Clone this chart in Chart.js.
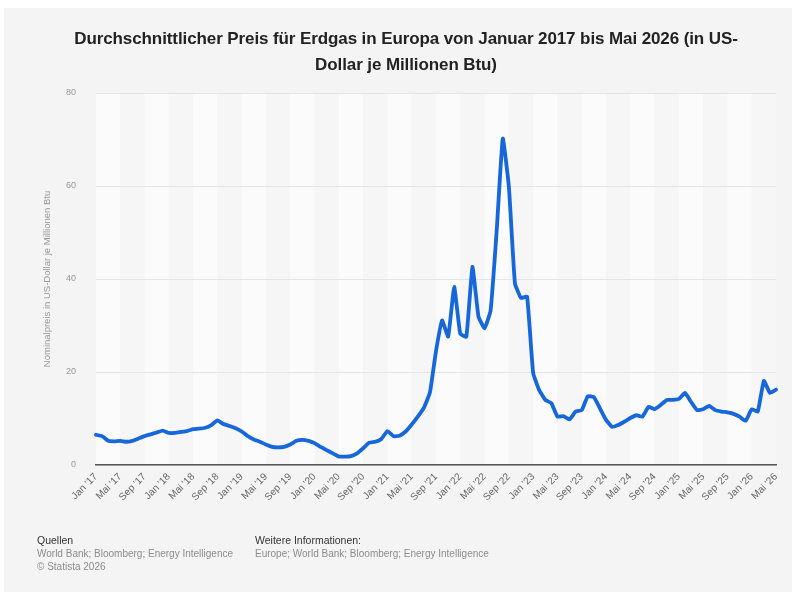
<!DOCTYPE html>
<html lang="de">
<head>
<meta charset="utf-8">
<script src="https://cdn.jsdelivr.net/npm/chart.js@4.4.1/dist/chart.umd.min.js"></script>
<style>
  html, body { margin: 0; padding: 0; background: #fff; }
  body { width: 796px; height: 594px; position: relative; overflow: hidden; font-family: "Liberation Sans", Arial, sans-serif; }
  #card { position: absolute; left: 4px; top: 8px; width: 788px; height: 584px; background: #f4f4f4; }
  #title { position: absolute; left: 0; top: 26px; width: 812px; text-align: center; font-size: 17px; font-weight: bold; line-height: 26px; color: #222; letter-spacing: -0.1px; }
  #chartBox { position: absolute; left: 0; top: 0; width: 796px; height: 594px; }
  .foot { position: absolute; top: 534px; font-size: 10px; line-height: 13px; color: #8c8c8c; }
  .foot b { font-weight: normal; color: #333; font-size: 10.5px; }
</style>
</head>
<body>
<div id="card"></div>
<div id="chartBox"><canvas id="gas"></canvas></div>
<div id="title">Durchschnittlicher Preis für Erdgas in Europa von Januar 2017 bis Mai 2026 (in US-<br>Dollar je Millionen Btu)</div>
<div class="foot" style="left:37px"><b>Quellen</b><br>World Bank; Bloomberg; Energy Intelligence<br>© Statista 2026</div>
<div class="foot" style="left:255px"><b>Weitere Informationen:</b><br>Europe; World Bank; Bloomberg; Energy Intelligence</div>
<script>
// Monatsnamen und Jahre (Jan 2017 - Mai 2026)
const monthNames = ["Jan", "Feb", "Mär", "Apr", "Mai", "Jun", "Jul", "Aug", "Sep", "Okt", "Nov", "Dez"];
const years = ["17", "18", "19", "20", "21", "22", "23", "24", "25", "26"];

// Preis in US-Dollar je Millionen Btu
const prices2017 = [6.5, 6.2, 5.2, 5.1, 5.2, 5.0, 5.2, 5.7, 6.2, 6.6, 7.0, 7.4];
const prices2018 = [6.9, 6.9, 7.1, 7.3, 7.7, 7.8, 8.0, 8.6, 9.6, 8.8, 8.4, 7.9];
const prices2019 = [7.2, 6.2, 5.5, 5.0, 4.4, 3.9, 3.8, 3.9, 4.4, 5.2, 5.4, 5.2];
const prices2020 = [4.7, 3.9, 3.2, 2.5, 1.8, 1.8, 1.9, 2.5, 3.6, 4.8, 5.0, 5.6];
const prices2021 = [7.3, 6.2, 6.3, 7.2, 8.7, 10.4, 12.3, 15.6, 24.5, 31.1, 27.6, 38.3];
const prices2022 = [28.2, 27.6, 42.6, 31.9, 29.4, 33.3, 50.5, 70.2, 59.9, 39.1, 35.9, 36.2];
const prices2023 = [19.8, 16.1, 14.0, 13.3, 10.4, 10.5, 9.8, 11.5, 11.8, 14.8, 14.6, 12.2];
const prices2024 = [9.7, 8.2, 8.6, 9.3, 10.1, 10.7, 10.4, 12.5, 12.0, 12.9, 14.0, 14.0];
const prices2025 = [14.2, 15.5, 13.6, 11.8, 12.0, 12.7, 11.8, 11.5, 11.3, 11.0, 10.4, 9.5];
const prices2026 = [12.0, 11.5, 18.1, 15.5, 16.2];

const prices = [].concat(prices2017, prices2018, prices2019, prices2020, prices2021,
  prices2022, prices2023, prices2024, prices2025, prices2026);

const labels = [];
years.forEach(y => monthNames.forEach(m => labels.push(m + " '" + y)));
labels.length = prices.length;

const yTicks = [0, 20, 40, 60, 80];

// abwechselnde Hintergrundstreifen je 4 Monate
const stripes = {
  id: "stripes",
  beforeDraw(chart) {
    const { ctx, chartArea, scales } = chart;
    const x = scales.x;
    ctx.save();
    for (let i = 0; i < labels.length; i += 4) {
      const x0 = i === 0 ? chartArea.left : x.getPixelForValue(i);
      const x1 = Math.min(x.getPixelForValue(i + 4), chartArea.right);
      ctx.fillStyle = (i / 4) % 2 === 0 ? "#fbfbfb" : "#f6f6f6";
      ctx.fillRect(x0, chartArea.top, x1 - x0, chartArea.bottom - chartArea.top);
    }
    ctx.restore();
  }
};

const gasConfig = {
  type: "line",
  data: {
    labels: labels,
    datasets: [
      {
        label: "Preis",
        data: prices,
        borderColor: "#1666dc",
        borderWidth: 3.8,
        pointRadius: 0,
        tension: 0.12,
        borderJoinStyle: "round",
        borderCapStyle: "round",
        fill: false,
      },
    ],
  },
  options: {
    responsive: true,
    maintainAspectRatio: false,
    animation: false,
    layout: { padding: { top: 93, left: 42, right: 20, bottom: 0 } },
    plugins: {
      legend: { display: false },
      tooltip: { enabled: false },
    },
    scales: {
      x: {
        offset: false,
        grid: { display: false, drawTicks: false },
        border: { display: true, color: "#555", width: 1.5 },
        ticks: {
          autoSkip: false,
          maxRotation: 45,
          minRotation: 45,
          padding: 6,
          color: "#666",
          font: { family: "Liberation Sans", size: 10 },
          callback: (v, i) => (i % 4 === 0 ? labels[i] : ""),
        },
        afterFit: (s) => { s.height = 129; },
      },
      y: {
        min: 0,
        max: 80,
        afterBuildTicks: (s) => { s.ticks = yTicks.map(v => ({ value: v })); },
        grid: { color: "#e4e4e4", drawTicks: false },
        border: { display: false },
        ticks: {
          padding: 20,
          color: "#999",
          font: { family: "Liberation Sans", size: 9 },
        },
        title: {
          display: true,
          text: "Nominalpreis in US-Dollar je Millionen Btu",
          color: "#999",
          font: { family: "Liberation Sans", size: 9.5 },
          padding: 0,
        },
        afterFit: (s) => { s.width = 54; },
      },
    },
  },
  plugins: [stripes],
};

const gasCtx = document.getElementById("gas");
window.gasChart = new Chart(gasCtx, gasConfig);
</script>
</body>
</html>
